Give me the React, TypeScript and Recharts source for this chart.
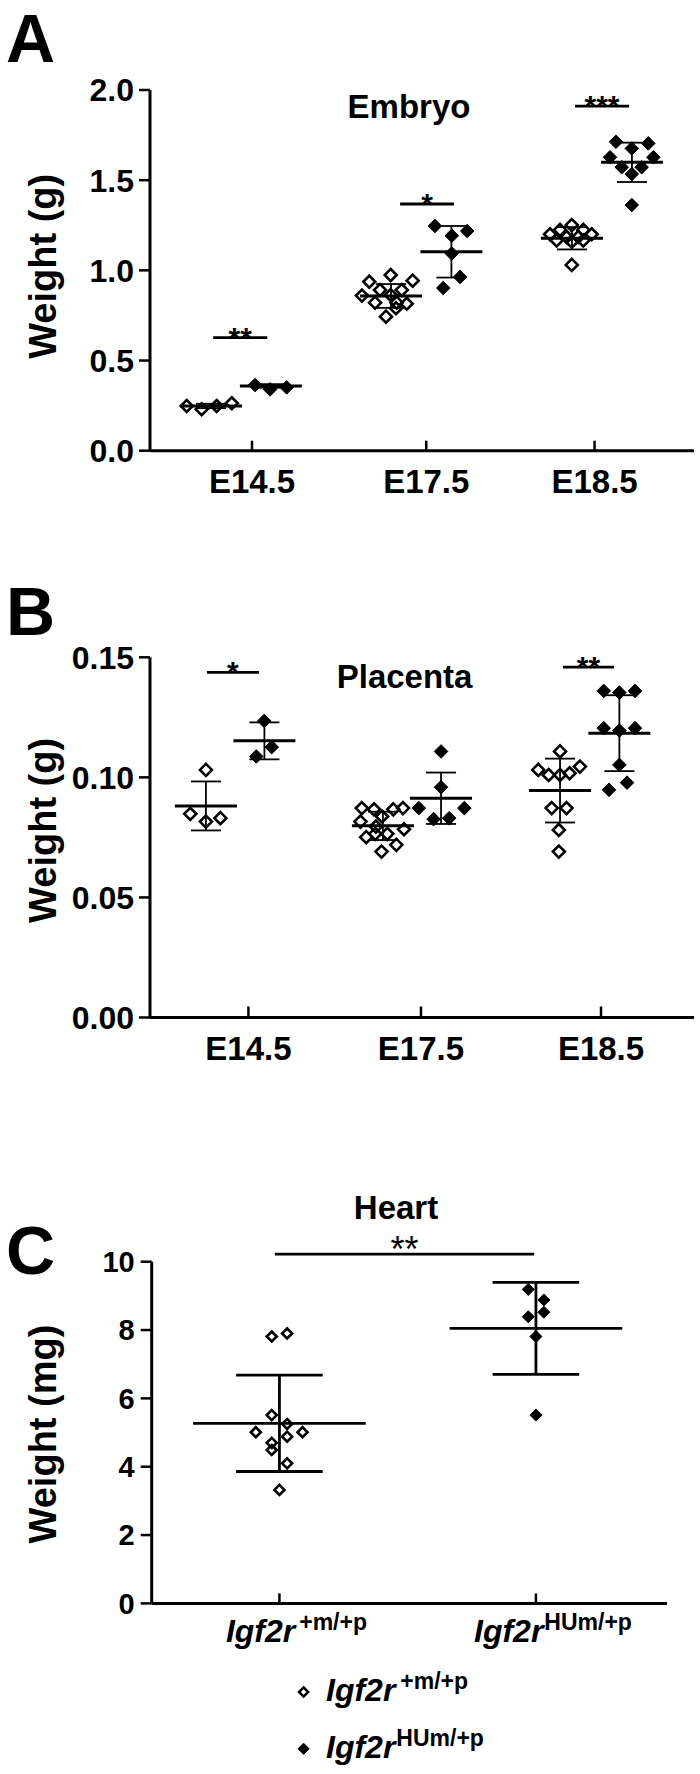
import React from 'react';
import { ScatterChart, Scatter, XAxis, YAxis, ErrorBar, ReferenceLine, Legend, Customized } from 'recharts';

const FONT = "'Liberation Sans', Arial, Helvetica, sans-serif";
const INK = '#000';

// ===== Panel A: Embryo weight (g) =====
const stageLabels = ['E14.5', 'E17.5', 'E18.5'];
const embryoStageX = [0.6, 1.625, 2.615];
const embryoYTicks = [0, 0.5, 1, 1.5, 2];
const embryoOpenX = [0.216, 0.304, 0.392, 0.481,
  1.29, 1.416, 1.545, 1.353, 1.481, 1.416, 1.324, 1.451, 1.51, 1.388, 1.447, 1.247,
  2.481, 2.412, 2.549, 2.353, 2.598, 2.451, 2.519, 2.392, 2.481, 2.549, 2.481];
const embryoOpenY = [0.248, 0.23, 0.248, 0.263,
  0.937, 0.974, 0.943, 0.891, 0.891, 0.863, 0.821, 0.821, 0.815, 0.743, 0.79, 0.86,
  1.251, 1.224, 1.224, 1.2, 1.2, 1.185, 1.185, 1.166, 1.159, 1.166, 1.03];
const embryoFilledX = [0.618, 0.706, 0.804,
  1.676, 1.866, 1.775, 1.775, 1.824, 1.725,
  2.741, 2.931, 2.834, 2.706, 2.961, 2.775, 2.892, 2.834, 2.834];
const embryoFilledY = [0.364, 0.34, 0.351,
  1.246, 1.218, 1.192, 1.094, 0.963, 0.902,
  1.713, 1.704, 1.676, 1.627, 1.627, 1.572, 1.572, 1.534, 1.362];
const embryoOpenMeanX = [0.359, 1.418, 2.482];
const embryoOpenMean = [0.248, 0.858, 1.178];
const embryoOpenSD = [0.012, 0.066, 0.062];
const embryoFilledMeanX = [0.711, 1.773, 2.835];
const embryoFilledMean = [0.359, 1.103, 1.599];
const embryoFilledSD = [0.01, 0.143, 0.109];
const embryoSigX1 = [0.372, 1.471, 2.5];
const embryoSigX2 = [0.69, 1.788, 2.818];
const embryoSigY = [0.627, 1.368, 1.911];
const embryoSigText = ['**', '*', '***'];

// ===== Panel B: Placenta weight (g) =====
const placentaStageX = [0.579, 1.594, 2.653];
const placentaYTicks = [0, 0.05, 0.1, 0.15];
const placentaOpenX = [0.329, 0.237, 0.329, 0.414,
  1.246, 1.318, 1.431, 1.488, 1.365, 1.238, 1.329, 1.494, 1.272, 1.396, 1.325, 1.449, 1.362,
  2.412, 2.284, 2.529, 2.345, 2.412, 2.468, 2.363, 2.45, 2.405, 2.405];
const placentaOpenY = [0.1031, 0.0848, 0.0816, 0.083,
  0.0872, 0.0867, 0.0867, 0.0872, 0.0837, 0.0816, 0.0795, 0.0784, 0.0751, 0.0765, 0.0765, 0.0719, 0.0691,
  0.1108, 0.1031, 0.1045, 0.101, 0.101, 0.1017, 0.0872, 0.0872, 0.0781, 0.0691];
const placentaFilledX = [0.672, 0.716, 0.625,
  1.712, 1.712, 1.581, 1.849, 1.668, 1.76,
  2.669, 2.761, 2.853, 2.669, 2.761, 2.853, 2.761, 2.7, 2.806];
const placentaFilledY = [0.1235, 0.1126, 0.1087,
  0.1108, 0.0959, 0.0872, 0.0872, 0.0826, 0.083,
  0.136, 0.1353, 0.136, 0.1205, 0.1195, 0.1205, 0.1052, 0.0948, 0.0978];
const placentaOpenMeanX = [0.329, 1.37, 2.412];
const placentaOpenMean = [0.0881, 0.0798, 0.0945];
const placentaOpenSD = [0.0102, 0.0059, 0.0133];
const placentaFilledMeanX = [0.673, 1.712, 2.761];
const placentaFilledMean = [0.1152, 0.0913, 0.1184];
const placentaFilledSD = [0.0077, 0.0107, 0.0158];
const placentaSigX1 = [0.335, 2.429];
const placentaSigX2 = [0.641, 2.729];
const placentaSigY = [0.1437, 0.1459];
const placentaSigText = ['*', '**'];

// ===== Panel C: Heart weight (mg) =====
const genotypeBase = ['Igf2r', 'Igf2r'];
const genotypeSup = ['+m/+p', 'HUm/+p'];
const heartGroupX = [1, 2];
const heartYTicks = [0, 2, 4, 6, 8, 10];
const heartOpenX = [0.97, 1.03, 0.97, 1.03, 0.908, 1.09, 1.03, 0.97, 0.97, 1.03, 1.0];
const heartOpenY = [7.81, 7.9, 5.51, 5.25, 5.01, 5.01, 4.88, 4.7, 4.49, 4.1, 3.32];
const heartFilledX = [1.97, 2.031, 2.031, 1.97, 2.0, 2.0];
const heartFilledY = [9.19, 8.88, 8.52, 8.39, 7.81, 5.51];
const heartMean = [5.27, 8.05];
const heartSD = [1.41, 1.345];
const heartSigX = [0.982, 1.993];
const heartSigY = 10.22;
const heartSigText = '**';

// ---------- helpers ----------
const pts = (xs: number[], ys: number[]) => xs.map((x, i) => ({ x, y: ys[i] }));
const stats = (xs: number[], ms: number[], sds: number[]) => xs.map((x, i) => ({ x, y: ms[i], sd: sds[i] }));

const AXIS = { stroke: INK, strokeWidth: 3 };
const TICKLINE = { stroke: INK, strokeWidth: 2.5 };

const diamondShape = (r: number, open: boolean, sw: number) => (p: any) => {
  const { cx, cy } = p;
  return (
    <polygon
      points={`${cx},${cy - r} ${cx + r},${cy} ${cx},${cy + r} ${cx - r},${cy}`}
      fill={open ? 'none' : INK}
      stroke={INK}
      strokeWidth={open ? sw : 1}
      strokeLinejoin="miter"
    />
  );
};

const meanShape = (half: number, sw: number) => (p: any) => (
  <line x1={p.cx - half} x2={p.cx + half} y1={p.cy} y2={p.cy} stroke={INK} strokeWidth={sw} />
);

const StageTick = (props: any) => {
  const { x, y, payload, ticks, labels } = props;
  const i = ticks.indexOf(payload.value);
  return (
    <text x={x} y={y + 42.6} textAnchor="middle" fontFamily={FONT} fontWeight={700} fontSize={33} fill={INK}>
      {labels[i]}
    </text>
  );
};

const GenoTick = (props: any) => {
  const { x, y, payload } = props;
  const i = heartGroupX.indexOf(payload.value);
  const sup = genotypeSup[i];
  return (
    <text x={x + 17} y={y + 38.6} textAnchor="middle" fontFamily={FONT} fontWeight={700} fontSize={32} fill={INK}>
      <tspan fontStyle="italic">{genotypeBase[i]}</tspan>
      <tspan dx={sup.startsWith('+') ? 4 : 1} dy={-12} fontSize={23}>{sup}</tspan>
    </text>
  );
};

const YTitle = (props: any) => {
  const { viewBox, text, dy } = props;
  const cx = 43;
  const cy = viewBox.y + viewBox.height / 2 + dy;
  return (
    <text x={cx} y={cy} transform={`rotate(-90 ${cx} ${cy})`} textAnchor="middle" dominantBaseline="central"
      fontFamily={FONT} fontWeight={700} fontSize={38} fill={INK}>
      {text}
    </text>
  );
};

const SigLabel = (props: any) => {
  const { viewBox, text, lift, size, weight } = props;
  return (
    <text x={viewBox.x + viewBox.width / 2} y={viewBox.y + lift} textAnchor="middle"
      fontFamily={FONT} fontWeight={weight} fontSize={size} fill={INK}>
      {text}
    </text>
  );
};

const PanelText = (props: any) => {
  const { letter, letterY, title, titleX, titleY } = props;
  return (
    <g>
      <text x={6} y={letterY} fontFamily={FONT} fontWeight={700} fontSize={68} fill={INK}>{letter}</text>
      <text x={titleX} y={titleY} textAnchor="middle" fontFamily={FONT} fontWeight={700} fontSize={33} fill={INK}>{title}</text>
    </g>
  );
};

const HeartLegend = () => (
  <svg width={260} height={110} style={{ display: 'block', overflow: 'visible' }}>
    {genotypeSup.map((sup, i) => {
      const cy = 25 + i * 56.8;
      const shape = i === 0 ? diamondShape(4.6, true, 2.5) : diamondShape(5.6, false, 1);
      return (
        <g key={sup}>
          {shape({ cx: 13.6, cy })}
          <text x={36} y={cy + 9.2} fontFamily={FONT} fontWeight={700} fontSize={32} fill={INK}>
            <tspan fontStyle="italic">{genotypeBase[i]}</tspan>
            <tspan dx={sup.startsWith('+') ? 5 : 1} dy={-12} fontSize={23}>{sup}</tspan>
          </text>
        </g>
      );
    })}
  </svg>
);

const yTick = (size: number) => ({ fill: INK, fontSize: size, fontWeight: 700, fontFamily: FONT });

function EmbryoChart() {
  return (
    <ScatterChart width={700} height={540} margin={{ top: 90, right: 6, bottom: 0, left: 0 }}>
      <XAxis type="number" dataKey="x" domain={[0, 3.2]} ticks={embryoStageX} interval={0} height={89.3}
        tickSize={-10} tickMargin={10} axisLine={AXIS} tickLine={TICKLINE} allowDataOverflow
        tick={<StageTick ticks={embryoStageX} labels={stageLabels} />} />
      <YAxis type="number" dataKey="y" domain={[0, 2]} ticks={embryoYTicks} interval={0} width={150}
        tickSize={11} tickMargin={5} axisLine={AXIS} tickLine={TICKLINE} allowDataOverflow
        tick={yTick(32)} tickFormatter={(v: number) => v.toFixed(1)}
        label={<YTitle text="Weight (g)" dy={-4} />} />
      <Scatter name="open" data={pts(embryoOpenX, embryoOpenY)} shape={diamondShape(6, true, 2.6)} isAnimationActive={false} />
      <Scatter name="filled" data={pts(embryoFilledX, embryoFilledY)} shape={diamondShape(6.8, false, 1)} isAnimationActive={false} />
      <Scatter name="openMean" data={stats(embryoOpenMeanX, embryoOpenMean, embryoOpenSD)} shape={meanShape(31, 3)} isAnimationActive={false}>
        <ErrorBar dataKey="sd" direction="y" width={15} stroke={INK} strokeWidth={1.8} />
      </Scatter>
      <Scatter name="filledMean" data={stats(embryoFilledMeanX, embryoFilledMean, embryoFilledSD)} shape={meanShape(31, 3)} isAnimationActive={false}>
        <ErrorBar dataKey="sd" direction="y" width={15} stroke={INK} strokeWidth={1.8} />
      </Scatter>
      {embryoSigY.map((y, i) => (
        <ReferenceLine key={i} segment={[{ x: embryoSigX1[i], y }, { x: embryoSigX2[i], y }]} stroke={INK} strokeWidth={2.8}
          ifOverflow="visible" label={<SigLabel text={embryoSigText[i]} lift={10} size={30} weight={700} />} />
      ))}
      <Customized component={<PanelText letter="A" letterY={62} title="Embryo" titleX={409} titleY={118.3} />} />
    </ScatterChart>
  );
}

function PlacentaChart() {
  return (
    <ScatterChart width={700} height={540} margin={{ top: 117.3, right: 6, bottom: 0, left: 0 }}>
      <XAxis type="number" dataKey="x" domain={[0, 3.2]} ticks={placentaStageX} interval={0} height={62.5}
        tickSize={-11} tickMargin={11} axisLine={AXIS} tickLine={TICKLINE} allowDataOverflow
        tick={<StageTick ticks={placentaStageX} labels={stageLabels} />} />
      <YAxis type="number" dataKey="y" domain={[0, 0.15]} ticks={placentaYTicks} interval={0} width={150}
        tickSize={11} tickMargin={5} axisLine={AXIS} tickLine={TICKLINE} allowDataOverflow
        tick={yTick(32)} tickFormatter={(v: number) => v.toFixed(2)}
        label={<YTitle text="Weight (g)" dy={-7} />} />
      <Scatter name="open" data={pts(placentaOpenX, placentaOpenY)} shape={diamondShape(6, true, 2.6)} isAnimationActive={false} />
      <Scatter name="filled" data={pts(placentaFilledX, placentaFilledY)} shape={diamondShape(6.8, false, 1)} isAnimationActive={false} />
      <Scatter name="openMean" data={stats(placentaOpenMeanX, placentaOpenMean, placentaOpenSD)} shape={meanShape(31, 3)} isAnimationActive={false}>
        <ErrorBar dataKey="sd" direction="y" width={15} stroke={INK} strokeWidth={1.8} />
      </Scatter>
      <Scatter name="filledMean" data={stats(placentaFilledMeanX, placentaFilledMean, placentaFilledSD)} shape={meanShape(31, 3)} isAnimationActive={false}>
        <ErrorBar dataKey="sd" direction="y" width={15} stroke={INK} strokeWidth={1.8} />
      </Scatter>
      {placentaSigY.map((y, i) => (
        <ReferenceLine key={i} segment={[{ x: placentaSigX1[i], y }, { x: placentaSigX2[i], y }]} stroke={INK} strokeWidth={2.8}
          ifOverflow="visible" label={<SigLabel text={placentaSigText[i]} lift={10} size={30} weight={700} />} />
      ))}
      <Customized component={<PanelText letter="B" letterY={95} title="Placenta" titleX={404.6} titleY={148.3} />} />
    </ScatterChart>
  );
}

function HeartChart() {
  return (
    <ScatterChart width={700} height={694} margin={{ top: 181.7, right: 33, bottom: 110.6, left: 0 }}>
      <XAxis type="number" dataKey="x" domain={[0.502, 2.511]} ticks={heartGroupX} interval={0} height={60}
        tickSize={-10} tickMargin={10} axisLine={AXIS} tickLine={TICKLINE} allowDataOverflow
        tick={<GenoTick />} />
      <YAxis type="number" dataKey="y" domain={[0, 10]} ticks={heartYTicks} interval={0} width={151.7}
        tickSize={11} tickMargin={6} axisLine={AXIS} tickLine={TICKLINE} allowDataOverflow
        tick={yTick(29)} label={<YTitle text="Weight (mg)" dy={1.5} />} />
      <Scatter name="Igf2r +m/+p" data={pts(heartOpenX, heartOpenY)} shape={diamondShape(5, true, 2.6)} isAnimationActive={false} />
      <Scatter name="Igf2r HUm/+p" data={pts(heartFilledX, heartFilledY)} shape={diamondShape(6, false, 1)} isAnimationActive={false} />
      <Scatter name="mean" legendType="none" data={stats(heartGroupX, heartMean, heartSD)} shape={meanShape(86.3, 2.8)} isAnimationActive={false}>
        <ErrorBar dataKey="sd" direction="y" width={43.3} stroke={INK} strokeWidth={2.8} />
      </Scatter>
      <ReferenceLine segment={[{ x: heartSigX[0], y: heartSigY }, { x: heartSigX[1], y: heartSigY }]} stroke={INK} strokeWidth={2.8}
        ifOverflow="visible" label={<SigLabel text={heartSigText} lift={7.4} size={36} weight={400} />} />
      <Legend verticalAlign="middle" align="center" layout="horizontal"
        wrapperStyle={{ top: 586.8, left: 290, width: 260, height: 110 }} content={<HeartLegend />} />
      <Customized component={<PanelText letter="C" letterY={194} title="Heart" titleX={396} titleY={139.3} />} />
    </ScatterChart>
  );
}

export default function App() {
  return (
    <div style={{ position: 'absolute', left: 0, top: 0, width: 700, height: 1774, background: '#fff', overflow: 'hidden' }}>
      <div style={{ position: 'absolute', left: 0, top: 0 }}><EmbryoChart /></div>
      <div style={{ position: 'absolute', left: 0, top: 540 }}><PlacentaChart /></div>
      <div style={{ position: 'absolute', left: 0, top: 1080 }}><HeartChart /></div>
    </div>
  );
}
